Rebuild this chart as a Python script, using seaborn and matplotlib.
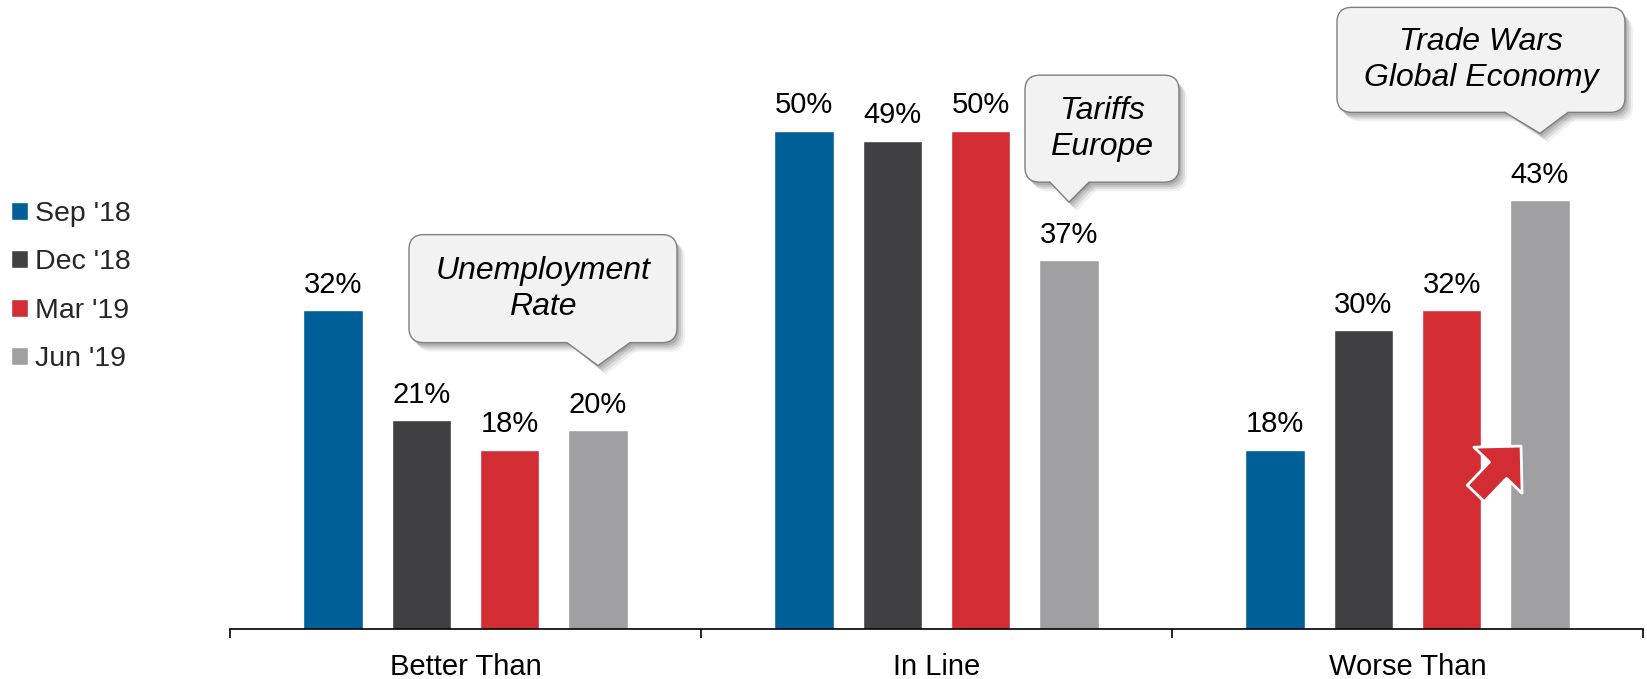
import numpy as np
import pandas as pd
import seaborn as sns
import matplotlib
matplotlib.use("Agg")
import matplotlib.pyplot as plt
import matplotlib.transforms as mtransforms
from matplotlib.patches import FancyBboxPatch, Polygon, FancyArrowPatch
from matplotlib.lines import Line2D

# ---------------- data ----------------
categories = ["Better Than", "In Line", "Worse Than"]
periods = ["Sep '18", "Dec '18", "Mar '19", "Jun '19"]
sep18 = [32, 50, 18]
dec18 = [21, 49, 30]
mar19 = [18, 50, 32]
jun19 = [20, 37, 43]
colors = ["#005F96", "#404042", "#D12D33", "#A0A0A2"]

callout_texts = ["Unemployment\nRate", "Tariffs\nEurope", "Trade Wars\nGlobal Economy"]
callout_cats = [0, 1, 2]          # category of the bar each callout points at
callout_hue = [3, 3, 3]           # period index of that bar

# ---------------- style ----------------
sns.set_theme(style="white")
plt.rcParams["font.family"] = ["Liberation Sans", "DejaVu Sans"]

df = pd.DataFrame({
    "category": categories * 4,
    "period": sum([[p] * 3 for p in periods], []),
    "value": sep18 + dec18 + mar19 + jun19,
})

fig = plt.figure(figsize=(16.47, 6.79), dpi=100)
ax = fig.add_axes([230 / 1647, 50 / 679, (1643 - 230) / 1647, 629 / 679])

sns.barplot(data=df, x="category", y="value", hue="period", order=categories,
            hue_order=periods, palette=colors, width=0.75, gap=0.33,
            saturation=1, ax=ax, legend=True, errorbar=None)

ax.set_ylim(0, 63.1)
ax.set_xlim(-0.5, 2.5)
ax.set_xlabel("")
ax.set_ylabel("")
ax.set_yticks([])
for s in ["left", "right", "top"]:
    ax.spines[s].set_visible(False)
ax.spines["bottom"].set_color("black")
ax.spines["bottom"].set_linewidth(1.2)
ax.set_xticks([-0.5, 0.5, 1.5, 2.5], minor=True)
ax.tick_params(axis="x", which="minor", length=6.5, width=1.2, direction="out",
               color="black", bottom=True)
ax.tick_params(axis="x", which="major", length=0, pad=17, labelsize=21,
               labelcolor="black")

for cont in ax.containers:
    ax.bar_label(cont, fmt="{:.0f}%", padding=8.0, fontsize=21, color="black")

sns.move_legend(ax, "center left", bbox_to_anchor=(0.0065, 0.578),
                bbox_transform=fig.transFigure, frameon=False, title=None,
                fontsize=20.5, handlelength=0.6, handleheight=0.6,
                handletextpad=0.25, labelspacing=0.78, borderpad=0,
                borderaxespad=0)

# ---------------- callouts ----------------
# geometry in inches relative to the apex (apex is offset above the bar top)
geo = [
    # apex_above, box_left, box_right, box_bottom, box_top, tail_l, tail_r
    (0.64, -1.89, 0.79, 0.23, 1.31, -0.31, 0.32),
    (0.58, -0.44, 1.10, 0.20, 1.27, -0.19, 0.20),
    (0.67, -2.03, 0.85, 0.21, 1.26, -0.35, 0.28),
]
face = "#F2F2F2"
edge = "#7F7F7F"
fig.canvas.draw()
for txt, ci, hi, g in zip(callout_texts, callout_cats, callout_hue, geo):
    bar = ax.containers[hi][ci]
    bx = bar.get_x() + bar.get_width() / 2
    by = bar.get_height()
    apex_up, x0, x1, y0, y1, tl, tr = g
    trans = fig.dpi_scale_trans + mtransforms.ScaledTranslation(bx, by, ax.transData)
    ya = apex_up
    # shadow
    for dx, dy, a in [(0.08, -0.09, 0.08), (0.06, -0.07, 0.12), (0.04, -0.05, 0.16), (0.02, -0.03, 0.2)]:
        sh = FancyBboxPatch((x0 + dx, ya + y0 + dy), x1 - x0, y1 - y0,
                            boxstyle="round,pad=0,rounding_size=0.15",
                            transform=trans, fc="#505050", ec="none", alpha=a,
                            zorder=5, clip_on=False)
        fig.add_artist(sh)
        shp = Polygon([(tl + dx, ya + y0 + dy + 0.02), (0 + dx, ya + dy), (tr + dx, ya + y0 + dy + 0.02)],
                      closed=True, transform=trans, fc="#505050", ec="none",
                      alpha=a, zorder=5, clip_on=False)
        fig.add_artist(shp)
    box = FancyBboxPatch((x0, ya + y0), x1 - x0, y1 - y0,
                         boxstyle="round,pad=0,rounding_size=0.15",
                         transform=trans, fc=face, ec=edge, lw=1.0, zorder=6,
                         clip_on=False)
    fig.add_artist(box)
    tail = Polygon([(tl, ya + y0 + 0.03), (tl, ya + y0), (0, ya), (tr, ya + y0), (tr, ya + y0 + 0.03)],
                   closed=True, transform=trans, fc=face, ec="none", zorder=7,
                   clip_on=False)
    fig.add_artist(tail)
    fig.add_artist(Line2D([tl, 0, tr], [ya + y0, ya, ya + y0], transform=trans,
                          color=edge, lw=1.0, zorder=8))
    fig.text((x0 + x1) / 2, ya + (y0 + y1) / 2, txt, transform=trans,
             ha="center", va="center", fontsize=23, style="italic",
             linespacing=1.25, color="black", zorder=9)

# ---------------- red arrow ----------------
arrow = FancyArrowPatch((2.145, 13.6), (2.241, 18.35),
                        arrowstyle="simple,head_length=24,head_width=48,tail_width=17",
                        mutation_scale=1, shrinkA=0, shrinkB=0,
                        fc="#D12D33", ec="white", lw=2, zorder=4,
                        transform=ax.transData, clip_on=False)
ax.add_patch(arrow)

fig.savefig("out.png", dpi=100)
